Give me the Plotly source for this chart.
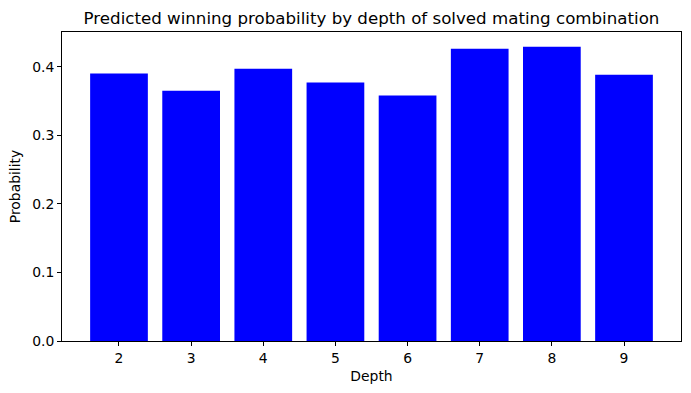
import plotly.graph_objects as go

depths = [2, 3, 4, 5, 6, 7, 8, 9]
probabilities = [0.390, 0.365, 0.397, 0.377, 0.358, 0.426, 0.429, 0.388]
y_ticks = [0.0, 0.1, 0.2, 0.3, 0.4]

W, H = 691, 393
L, R, T, B = 62, 10, 32, 52

fig = go.Figure(go.Bar(x=depths, y=probabilities, width=0.8,
                       marker=dict(color="#0000ff", line=dict(width=0))))

font = "DejaVu Sans"
fs = 13.9
fig.update_layout(
    width=W, height=H,
    margin=dict(l=L, r=R, t=T, b=B),
    paper_bgcolor="white", plot_bgcolor="white",
    font=dict(family=font, size=fs, color="black"),
    showlegend=False,
    title=dict(text="Predicted winning probability by depth of solved mating combination",
               font=dict(family=font, size=16.67, color="black"),
               xref="paper", x=0.5, xanchor="center",
               yref="container", y=1 - 18 / H, yanchor="middle"),
)
fig.update_xaxes(range=[1.21, 9.79], tickmode="array", tickvals=depths,
                 ticktext=[str(d) for d in depths],
                 showgrid=False, zeroline=False,
                 showline=True, linecolor="black", linewidth=1, mirror=True,
                 ticks="outside", ticklen=4, tickcolor="black", tickwidth=1,
                 tickfont=dict(size=fs),
                 title=dict(text="Depth", font=dict(size=fs), standoff=6))
fig.update_yaxes(range=[0, 0.4505], tickmode="array", tickvals=y_ticks,
                 ticktext=[f"{v:.1f}" for v in y_ticks],
                 showgrid=False, zeroline=False,
                 showline=True, linecolor="black", linewidth=1, mirror=True,
                 ticks="outside", ticklen=4, tickcolor="black", tickwidth=1,
                 tickfont=dict(size=fs),
                 title=dict(text="Probability", font=dict(size=fs), standoff=8))

fig.write_html("out.html", config={"displayModeBar": False},
               post_script="document.body.style.margin='0';")
